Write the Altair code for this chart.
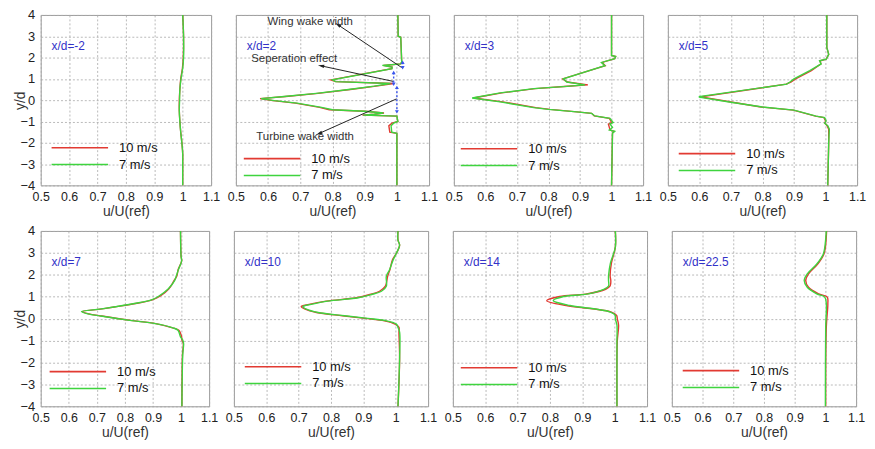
import math
import altair as alt
import pandas as pd

# ---------------- data ----------------
SPEEDS = ["10 m/s", "7 m/s"]
PANEL_LABELS = ["x/d=-2", "x/d=2", "x/d=3", "x/d=5", "x/d=7", "x/d=10", "x/d=14", "x/d=22.5"]
X_TICKS = [0.5, 0.6, 0.7, 0.8, 0.9, 1.0, 1.1]
Y_TICKS = [-4, -3, -2, -1, 0, 1, 2, 3, 4]

# x/d = -2
Y1 = [4.0, 3.0, 2.0, 1.5, 1.0, 0.5, 0.0, -0.5, -1.0, -1.5, -2.0, -2.5, -3.0, -4.0]
U7_1 = [1.0, 1.003, 1.003, 1.0, 0.994, 0.99, 0.989, 0.988, 0.99, 0.993, 0.997, 1.0, 1.0, 1.0]
U10_1 = [1.0, 1.003, 1.002, 0.999, 0.993, 0.99, 0.988, 0.988, 0.99, 0.993, 0.997, 1.0, 1.0, 1.0]

# x/d = 2
Y2 = [4.0, 3.0, 2.95, 1.8, 1.7, 1.63, 1.55, 1.48, 0.95, 0.87, 0.78, 0.66, 0.5, 0.32, 0.17,
      0.07, -0.02, -0.14, -0.34, -0.45, -0.52, -0.6, -0.66, -0.7, -0.75, -1.0, -1.08, -1.2,
      -1.5, -1.56, -2.0, -4.0]
U7_2 = [1.003, 1.004, 1.012, 1.015, 1.012, 0.955, 0.985, 0.985, 0.80, 0.81, 0.98, 0.93, 0.85,
        0.75, 0.65, 0.578, 0.62, 0.69, 0.766, 0.80, 0.90, 0.958, 0.93, 0.895, 1.0, 1.003, 0.99,
        0.982, 0.984, 1.0, 1.0, 1.0]
U10_2 = [1.003, 1.004, 1.012, 1.015, 1.012, 0.958, 0.985, 0.984, 0.795, 0.81, 0.99, 0.935, 0.855,
         0.755, 0.655, 0.575, 0.615, 0.685, 0.76, 0.79, 0.90, 0.96, 0.93, 0.893, 1.0, 1.003, 0.985,
         0.975, 0.978, 1.0, 1.0, 1.0]

# x/d = 3
Y3 = [4.0, 2.1, 2.05, 1.95, 1.77, 1.62, 1.0, 0.85, 0.72, 0.65, 0.54, 0.34, 0.10, -0.08, -0.35,
      -0.43, -0.55, -0.62, -0.74, -0.85, -1.05, -1.12, -1.28, -1.40, -1.46, -1.55, -4.0]
U7_3 = [1.0, 1.0, 1.013, 1.01, 0.968, 0.979, 0.847, 0.858, 0.916, 0.858, 0.753, 0.647, 0.558,
        0.647, 0.753, 0.80, 0.89, 0.937, 0.947, 0.995, 1.005, 0.995, 1.003, 0.993, 1.01, 1.003, 1.0]
U10_3 = [1.0, 1.0, 1.013, 1.01, 0.97, 0.98, 0.845, 0.86, 0.925, 0.86, 0.758, 0.652, 0.562,
         0.655, 0.76, 0.805, 0.89, 0.937, 0.945, 0.993, 1.0, 0.99, 0.993, 0.995, 1.008, 1.003, 1.0]

# x/d = 5
Y4 = [4.0, 2.48, 2.15, 1.92, 1.85, 1.70, 1.39, 1.0, 0.85, 0.75, 0.17, 0.14, -0.10, -0.32, -0.47,
      -0.75, -0.82, -0.98, -1.08, -1.20, -1.36, -2.0, -4.0]
U7_4 = [1.004, 1.004, 1.01, 1.002, 0.981, 0.986, 0.95, 0.90, 0.887, 0.877, 0.60, 0.60, 0.70,
        0.80, 0.90, 0.97, 0.997, 1.002, 0.997, 1.007, 1.012, 1.01, 1.007]
U10_4 = [1.004, 1.004, 1.01, 1.002, 0.983, 0.985, 0.955, 0.905, 0.89, 0.875, 0.61, 0.61, 0.705,
         0.795, 0.898, 0.968, 0.995, 1.0, 0.998, 1.005, 1.01, 1.01, 1.007]

# x/d = 7
Y5 = [4.0, 2.85, 2.63, 2.25, 1.95, 1.73, 1.35, 1.02, 0.87, 0.70, 0.53, 0.42, 0.32, 0.22, 0.12,
      -0.08, -0.23, -0.42, -0.53, -0.83, -0.98, -1.13, -1.65, -4.0]
U7_5 = [0.998, 1.0, 1.002, 0.991, 0.983, 0.977, 0.954, 0.92, 0.897, 0.84, 0.76, 0.703, 0.645,
        0.668, 0.714, 0.817, 0.908, 0.971, 0.989, 0.998, 1.006, 1.009, 1.006, 1.003]
U10_5 = [0.998, 1.0, 1.002, 0.99, 0.985, 0.975, 0.956, 0.925, 0.9, 0.843, 0.762, 0.706, 0.648,
         0.672, 0.718, 0.82, 0.91, 0.97, 0.992, 1.002, 1.003, 1.008, 1.005, 1.003]

# x/d = 10
Y6 = [4.0, 3.58, 3.35, 2.98, 2.68, 2.23, 1.93, 1.48, 1.25, 1.10, 0.95, 0.80, 0.65, 0.55, 0.43,
      0.28, 0.13, 0.01, -0.10, -0.25, -0.40, -0.62, -1.82, -4.0]
U7_6 = [1.007, 1.007, 1.012, 1.002, 0.992, 0.981, 0.971, 0.971, 0.956, 0.925, 0.884, 0.79, 0.739,
        0.713, 0.724, 0.76, 0.842, 0.914, 0.971, 1.002, 1.007, 1.012, 1.012, 1.007]
U10_6 = [1.007, 1.007, 1.012, 1.002, 0.99, 0.982, 0.975, 0.968, 0.95, 0.92, 0.878, 0.785, 0.732,
         0.708, 0.72, 0.755, 0.835, 0.905, 0.965, 0.998, 1.01, 1.01, 1.012, 1.007]

# x/d = 14
Y7 = [4.0, 3.25, 2.54, 1.94, 1.74, 1.49, 1.34, 1.12, 1.01, 0.82, 0.6, 0.45, 0.30, 0.15, 0.0,
      -0.3, -1.04, -4.0]
U7_7 = [1.002, 1.002, 0.987, 0.981, 0.981, 0.981, 0.966, 0.914, 0.842, 0.81, 0.862, 0.935, 0.987,
        1.002, 1.002, 1.007, 1.007, 1.007]
U10_7 = [1.002, 1.002, 0.99, 0.986, 0.988, 0.986, 0.972, 0.91, 0.83, 0.79, 0.85, 0.93, 0.99,
         1.006, 1.008, 1.012, 1.008, 1.007]

# x/d = 22.5
Y8 = [4.0, 3.25, 2.94, 2.49, 2.04, 1.74, 1.43, 1.13, 0.98, 0.68, -0.38, -4.0]
U7_8 = [1.003, 0.998, 0.993, 0.972, 0.941, 0.931, 0.941, 0.972, 0.998, 1.003, 1.001, 1.0]
U10_8 = [1.004, 1.0, 0.995, 0.975, 0.945, 0.936, 0.945, 0.978, 1.006, 1.008, 1.003, 1.001]

Y_ALL = [Y1, Y2, Y3, Y4, Y5, Y6, Y7, Y8]
U7_ALL = [U7_1, U7_2, U7_3, U7_4, U7_5, U7_6, U7_7, U7_8]
U10_ALL = [U10_1, U10_2, U10_3, U10_4, U10_5, U10_6, U10_7, U10_8]

# annotations of the x/d=2 panel
ANNOT_TEXT = ["Wing wake width", "Seperation effect", "Turbine wake width"]
ANNOT_X = [0.731, 0.681, 0.715]
ANNOT_Y = [3.69, 1.95, -1.71]
ARROW_TAIL_X = [1.015, 0.989, 0.999]
ARROW_TAIL_Y = [1.53, 0.88, 0.06]
ARROW_HEAD_X = [0.817, 0.765, 0.759]
ARROW_HEAD_Y = [3.54, 1.61, -1.56]
MARK_X = [1.018, 0.99, 1.0]
MARK_TOP = [1.78, 1.3, 0.6]
MARK_BOT = [1.52, 0.75, -0.55]

# ---------------- style / layout ----------------
RED = "#e23a32"
GREEN = "#3ed43e"
BLUE_TXT = "#3232c8"
FONT = "Liberation Sans"

ROW_WIDTHS = [[172, 195, 191, 191], [170, 196, 196, 186]]
ROW_HEIGHTS = [172, 177]
SMOOTH = [True, False, False, False, True, True, True, True]
LEG_LEFT = [11, 8, 7, 11, 9, 11, 8, 11]
LEG_BOTTOM = [21, 10, 20, 15, 18, 23, 22, 19]

XS = alt.Scale(domain=[0.5, 1.1], nice=False, zero=False)
YS = alt.Scale(domain=[-4, 4], nice=False, zero=False)


def one_row(text_value):
    return pd.DataFrame({"t": [text_value]})


def panel(i, w, h, show_y):
    y = Y_ALL[i]
    n = len(y)
    df = pd.DataFrame({
        "y": list(y) + list(y),
        "u": list(U10_ALL[i]) + list(U7_ALL[i]),
        "speed": [SPEEDS[0]] * n + [SPEEDS[1]] * n,
        "idx": list(range(n)) * 2,
    })
    xax = alt.Axis(values=X_TICKS, format="~g", title="u/U(ref)", labelPadding=5,
                   titlePadding=2, labelFontSize=12.5, labelFlush=False, labelOverlap=False)
    if show_y:
        yax = alt.Axis(values=Y_TICKS, title="y/d", labelPadding=6, titleX=-13,
                       labelFontSize=13, labelFlush=False, labelOverlap=False)
    else:
        yax = alt.Axis(values=Y_TICKS, title=None, labels=False)

    lines = alt.Chart(df).mark_line(
        strokeWidth=1.4, interpolate="catmull-rom" if SMOOTH[i] else "linear"
    ).encode(
        x=alt.X("u:Q", scale=XS, axis=xax),
        y=alt.Y("y:Q", scale=YS, axis=yax),
        color=alt.Color("speed:N", scale=alt.Scale(domain=SPEEDS, range=[RED, GREEN]), legend=None),
        order=alt.Order("idx:Q"),
    )

    label = alt.Chart(one_row(PANEL_LABELS[i])).mark_text(
        align="left", baseline="middle", color=BLUE_TXT, fontSize=12, font=FONT
    ).encode(x=alt.value(11), y=alt.value(31), text="t:N")

    layers = [lines, label]

    # legend (drawn inside the plot, bottom-left)
    gy = h - LEG_BOTTOM[i]
    ry = gy - 17
    lx = LEG_LEFT[i]
    for col, yy, name in [(RED, ry, SPEEDS[0]), (GREEN, gy, SPEEDS[1])]:
        layers.append(
            alt.Chart(one_row(name)).mark_rule(color=col, strokeWidth=1.6).encode(
                x=alt.value(lx), x2=alt.value(lx + 57), y=alt.value(yy))
        )
        layers.append(
            alt.Chart(one_row(name)).mark_text(
                align="left", baseline="middle", fontSize=13, font=FONT, color="#111"
            ).encode(x=alt.value(lx + 68), y=alt.value(yy), text="t:N")
        )

    if i == 1:
        def ax(field):
            return alt.X(field, scale=XS, axis=xax)

        def ay(field):
            return alt.Y(field, scale=YS, axis=yax)

        kx = w / 0.6
        ky = h / 8.0
        angles = []
        for tx, ty, hx, hy in zip(ARROW_TAIL_X, ARROW_TAIL_Y, ARROW_HEAD_X, ARROW_HEAD_Y):
            dx = (hx - tx) * kx
            dy = -(hy - ty) * ky
            angles.append(math.degrees(math.atan2(dx, -dy)) % 360)
        arr = pd.DataFrame({"tx": ARROW_TAIL_X, "ty": ARROW_TAIL_Y,
                            "hx": ARROW_HEAD_X, "hy": ARROW_HEAD_Y, "ang": angles})
        layers.append(alt.Chart(arr).mark_rule(color="#222", strokeWidth=1).encode(
            x=ax("tx:Q"), y=ay("ty:Q"), x2="hx:Q", y2="hy:Q"))
        layers.append(alt.Chart(arr).mark_point(
            shape="M0,-1L0.5,0.9L-0.5,0.9Z", filled=True, color="#222", opacity=1, size=45
        ).encode(x=ax("hx:Q"), y=ay("hy:Q"), angle=alt.Angle("ang:Q", scale=None)))
        mk = pd.DataFrame({"x": MARK_X, "y1": MARK_TOP, "y2": MARK_BOT})
        layers.append(alt.Chart(mk).mark_rule(color="#3a55ee", strokeWidth=1.4, strokeDash=[2, 2]).encode(
            x=ax("x:Q"), y=ay("y1:Q"), y2="y2:Q"))
        layers.append(alt.Chart(mk).mark_point(shape="triangle-up", filled=True, color="#3a55ee",
                                               opacity=1, size=16).encode(
            x=ax("x:Q"), y=ay("y1:Q")))
        layers.append(alt.Chart(mk).mark_point(shape="triangle-down", filled=True, color="#3a55ee",
                                               opacity=1, size=16).encode(
            x=ax("x:Q"), y=ay("y2:Q")))
        at = pd.DataFrame({"x": ANNOT_X, "y": ANNOT_Y, "t": ANNOT_TEXT})
        layers.append(alt.Chart(at).mark_text(fontSize=11.5, font=FONT, color="#333",
                                              align="center", baseline="middle").encode(
            x=ax("x:Q"), y=ay("y:Q"), text="t:N"))

    return alt.layer(*layers).properties(width=w, height=h)


rows = []
for r in range(2):
    panels = []
    for c in range(4):
        i = r * 4 + c
        panels.append(panel(i, ROW_WIDTHS[r][c], ROW_HEIGHTS[r], c == 0))
    rows.append(alt.hconcat(*panels, spacing=25, bounds="flush"))

chart = alt.vconcat(*rows, spacing=5).properties(
    padding={"left": 5, "top": -2, "right": 0, "bottom": 0},
    background="white",
).configure_view(
    stroke="#9a9a9a", strokeWidth=1
).configure_axis(
    grid=True, gridColor="#a8a8a8", gridDash=[2, 2], gridWidth=0.8,
    domain=False, ticks=False, labelOverlap=False,
    labelFont=FONT, labelColor="#222",
    titleFont=FONT, titleFontSize=14, titleColor="#333", titleFontWeight="normal",
)

chart.save("out.html", embed_options={"renderer": "svg", "actions": False})
